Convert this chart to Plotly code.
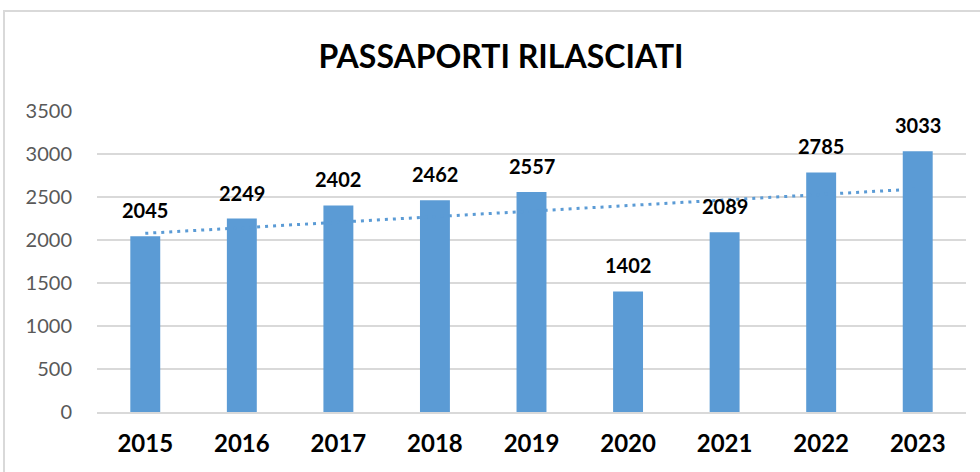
import numpy as np
import plotly.graph_objects as go

years = ["2015", "2016", "2017", "2018", "2019", "2020", "2021", "2022", "2023"]
passaporti = [2045, 2249, 2402, 2462, 2557, 1402, 2089, 2785, 3033]
y_ticks = [0, 500, 1000, 1500, 2000, 2500, 3000, 3500]

BLUE = "#5B9BD5"

# Linear trendline (as in the spreadsheet), derived from the data
xi = np.arange(1, len(passaporti) + 1)
slope, intercept = np.polyfit(xi, passaporti, 1)
trend = slope * xi + intercept

fig = go.Figure()
fig.add_trace(go.Bar(
    x=years, y=passaporti, marker=dict(color=BLUE, line=dict(width=0)),
    hoverinfo="x+y", showlegend=False,
))
fig.add_trace(go.Scatter(
    x=years, y=trend, mode="lines",
    line=dict(color=BLUE, width=3, dash="3px,5px"),
    showlegend=False, hoverinfo="skip",
))

for i, v in enumerate(passaporti):
    fig.add_annotation(
        x=i, y=v, text=str(v), showarrow=False,
        yanchor="middle", yshift=26,
        font=dict(family="Lato, Open Sans, sans-serif", size=20, color="#000000", weight="bold"),
    )

W, H = 980, 472
L, R, T, B = 97, 14, 111, 60
pw, ph = W - L - R, H - T - B

# chart outer border (light grey frame, clipped at right/bottom edges)
fig.add_shape(
    type="rect", xref="paper", yref="paper",
    x0=(4 - L) / pw, x1=(W + 5 - L) / pw,
    y0=-(H + 5 - (T + ph)) / ph, y1=(H - 11 - B) / ph,
    line=dict(color="#D9D9D9", width=2), fillcolor="rgba(0,0,0,0)", layer="below",
)

fig.update_layout(
    width=W, height=H,
    margin=dict(l=L, r=R, t=T, b=B),
    paper_bgcolor="white", plot_bgcolor="white",
    bargap=0.69,
    title=dict(
        text="PASSAPORTI RILASCIATI", x=501 / W, xanchor="center",
        y=1 - 57 / H, yanchor="middle",
        font=dict(family="Lato, Open Sans, sans-serif", size=32, color="#000000", weight="bold"),
    ),
    xaxis=dict(
        type="category", range=[-0.5, len(years) - 0.5],
        showgrid=False, showline=True, linecolor="#D9D9D9", linewidth=1.5,
        ticks="", tickfont=dict(family="Lato, Open Sans, sans-serif", size=24, color="#000000", weight="bold"),
        ticklabelstandoff=9,
    ),
    yaxis=dict(
        range=[0, 3500], tickvals=y_ticks, ticktext=[str(t) for t in y_ticks],
        showgrid=True, gridcolor="#D9D9D9", gridwidth=1.5, zeroline=False,
        showline=False, ticks="",
        tickfont=dict(family="Lato, Open Sans, sans-serif", size=20, color="#595959"),
        ticklabelstandoff=24,
    ),
)

fig.write_html(
    "out.html",
    config={"displayModeBar": False},
    post_script="document.body.style.margin='0';document.body.style.overflow='hidden';",
)
